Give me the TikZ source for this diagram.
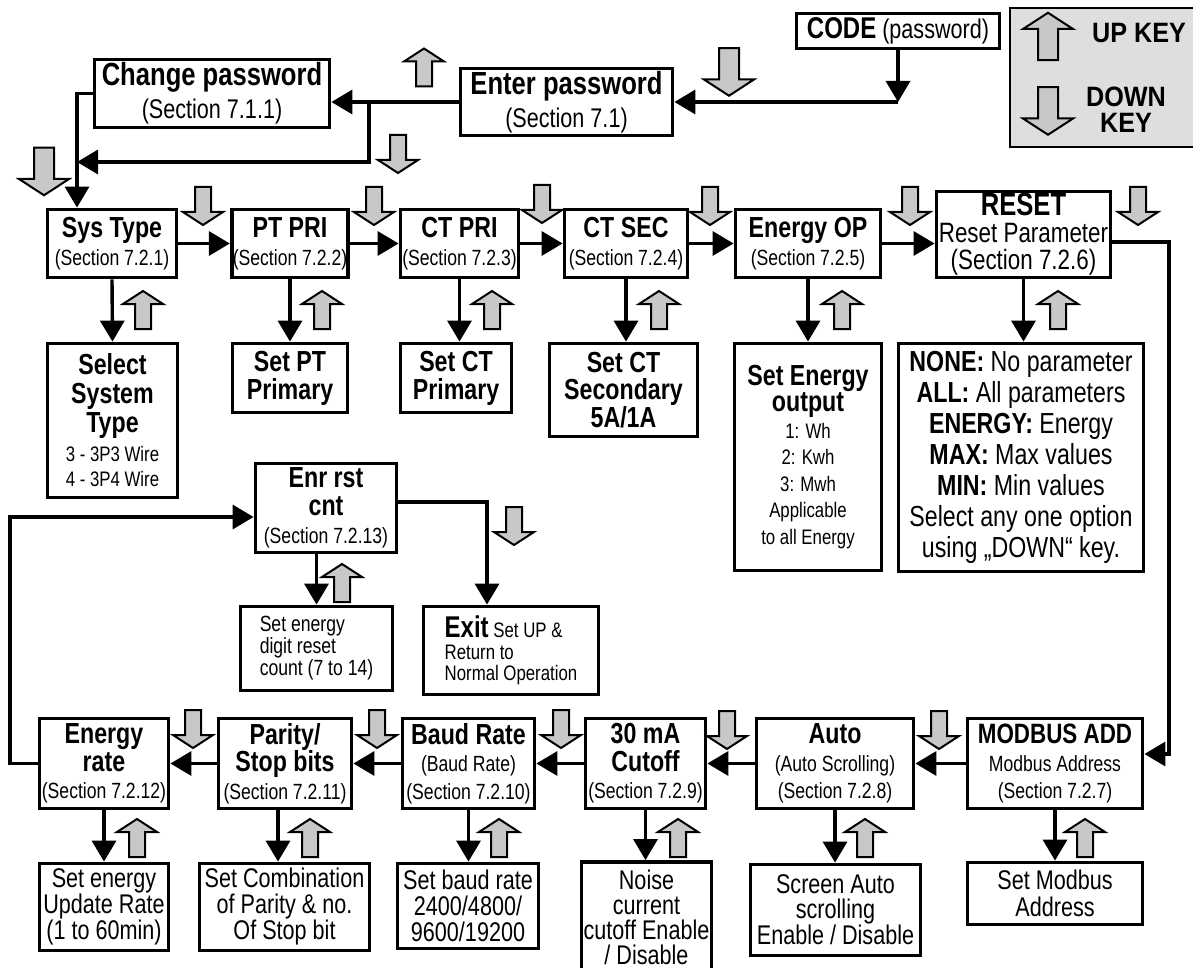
\documentclass[tikz,border=0pt]{standalone}
\usepackage{fontspec}
\setmainfont{Liberation Sans}[FakeStretch=0.8]
\newfontfamily\keyfont{Liberation Sans}[FakeStretch=0.9]
\usetikzlibrary{arrows.meta}
\definecolor{keygray}{RGB}{200,200,200}
\definecolor{legendgray}{RGB}{222,222,222}
\newcommand{\hd}[1]{{\fontsize{29}{28}\selectfont\bfseries #1}}
\newcommand{\bighd}[1]{{\fontsize{32}{32}\selectfont\bfseries #1}}

\begin{document}
\begin{tikzpicture}[x=1pt,y=-1pt,
    menubox/.style={draw, line width=3.8pt, align=center, inner sep=1pt, font=\fontsize{22}{28}\selectfont},
    wire/.style={line width=3.4pt},
    arr/.style={wire, -{Triangle[length=21pt,width=24pt]}},
    keyicon/.style={fill=keygray, draw=black, line width=2pt}]
    \useasboundingbox (0,0) rectangle (1193,968);
    \def\keydn{(-8,-19) -- (8,-19) -- (8,6) -- (20,6) -- (0,19) -- (-20,6) -- (-8,6) -- cycle}
    \def\keyup{(-8,19) -- (8,19) -- (8,-6) -- (20,-6) -- (0,-19) -- (-20,-6) -- (-8,-6) -- cycle}

    % --- PASSWORD (TOP) ---
    \node[menubox, minimum width=235pt, minimum height=68pt, font=\fontsize{27}{33}\selectfont] (chpw) at (212,93.5) {\bighd{Change password}\\(Section 7.1.1)};
    \node[menubox, minimum width=212pt, minimum height=67pt, font=\fontsize{27}{33}\selectfont] (enpw) at (566.5,102) {\bighd{Enter password}\\(Section 7.1)};
    \node[menubox, minimum width=203pt, minimum height=35pt, font=\fontsize{27}{30}\selectfont] (code) at (898,31) {{\fontsize{30}{30}\selectfont\bfseries CODE} (password)};
    \draw[fill=legendgray, line width=1.2pt] (1010,8) rectangle (1200,147);
    \filldraw[keyicon, shift={(1048,36.5)}, scale=1.25] \keyup;
    \filldraw[keyicon, shift={(1048,111)}, scale=1.25] \keydn;
    \node[font=\keyfont\fontsize{28}{26}\selectfont\bfseries] (upkey) at (1139,33) {UP KEY};
    \node[font=\keyfont\fontsize{28}{26}\selectfont\bfseries, align=center] (dnkey) at (1126,110) {DOWN\\KEY};
    \coordinate (cc) at (code.south |- enpw.east);
    \draw[arr] (code.south) -- (cc);
    \draw[arr] (cc) -- (enpw.east);
    \draw[arr] (enpw.west) -- (chpw.east |- enpw.west);
    \coordinate (jn) at (369,102);
    \coordinate (jnb) at (369,162);
    \coordinate (lp) at (77,162);
    \draw[arr] (jn) -- (jnb) -- (lp);
    \coordinate (lt) at (77,93.5);
    \filldraw[keyicon, shift={(424,67.5)}] \keyup;
    \filldraw[keyicon, shift={(729,72)}, scale=1.25] \keydn;
    \filldraw[keyicon, shift={(398,154)}] \keydn;
    \filldraw[keyicon, shift={(44,171.5)}, scale=1.25] \keydn;

    % --- SETUP ROW ---
    \node[menubox, minimum width=129pt, minimum height=68pt] (sys) at (112,243.5) {\hd{Sys Type}\\(Section 7.2.1)};
    \node[menubox, minimum width=115pt, minimum height=68pt] (ptpri) at (290,243.5) {\hd{PT PRI}\\(Section 7.2.2)};
    \node[menubox, minimum width=118pt, minimum height=68pt] (ctpri) at (459.5,243.5) {\hd{CT PRI}\\(Section 7.2.3)};
    \node[menubox, minimum width=123pt, minimum height=68pt] (ctsec) at (626,243.5) {\hd{CT SEC}\\(Section 7.2.4)};
    \node[menubox, minimum width=145pt, minimum height=68pt] (enop) at (808,243.5) {\hd{Energy OP}\\(Section 7.2.5)};
    \node[menubox, minimum width=174pt, minimum height=86pt, font=\fontsize{28}{27}\selectfont] (reset) at (1023.5,234.5) {\bighd{RESET}\\Reset Parameter\\(Section 7.2.6)};
    \draw[arr] (chpw.west) -- (lt) -- (lt |- sys.north);
    \draw[arr] (sys.east) -- (ptpri.west);
    \draw[arr] (ptpri.east) -- (ctpri.west);
    \draw[arr] (ctpri.east) -- (ctsec.west);
    \draw[arr] (ctsec.east) -- (enop.west);
    \draw[arr] (enop.east) -- (enop.east -| reset.west);
    \filldraw[keyicon, shift={(203,206)}] \keydn;
    \filldraw[keyicon, shift={(374,206)}] \keydn;
    \filldraw[keyicon, shift={(542,204)}] \keydn;
    \filldraw[keyicon, shift={(710,206)}] \keydn;
    \filldraw[keyicon, shift={(910,206)}] \keydn;
    \filldraw[keyicon, shift={(1138,206)}] \keydn;

    \node[menubox, minimum width=130pt, minimum height=154pt, font=\fontsize{21}{29}\selectfont] (selsys) at (112.5,420.5) {\hd{Select}\\\hd{System}\\\hd{Type}\\3 - 3P3 Wire\\[-4pt]4 - 3P4 Wire};
    \node[menubox, minimum width=115pt, minimum height=69pt] (setpt) at (290,378) {\hd{Set PT}\\\hd{Primary}};
    \node[menubox, minimum width=111pt, minimum height=69pt] (setct) at (456,378) {\hd{Set CT}\\\hd{Primary}};
    \node[menubox, minimum width=148pt, minimum height=93pt, font=\fontsize{21}{27}\selectfont] (setsec) at (623.5,390) {\hd{Set CT}\\\hd{Secondary}\\\hd{5A/1A}};
    \node[menubox, minimum width=147pt, minimum height=227pt, font=\fontsize{21}{26.5}\selectfont] (setenop) at (808,457) {\hd{Set Energy}\\\hd{output}\\1: Wh\\2: Kwh\\3: Mwh\\Applicable\\to all Energy};
    \node[menubox, minimum width=245pt, minimum height=228pt, font=\fontsize{29}{31}\selectfont] (none) at (1021,457.5) {{\bfseries NONE:} No parameter\\{\bfseries ALL:} All parameters\\{\bfseries ENERGY:} Energy\\{\bfseries MAX:} Max values\\{\bfseries MIN:} Min values\\Select any one option\\using „DOWN“ key.};
    \draw[arr] (sys.south) -- (selsys.north);
    \draw[arr] (ptpri.south) -- (setpt.north);
    \draw[arr] (ctpri.south) -- (ctpri.south |- setct.north);
    \draw[arr] (ctsec.south) -- (ctsec.south |- setsec.north);
    \draw[arr] (enop.south) -- (setenop.north);
    \draw[arr] (reset.south) -- (reset.south |- none.north);
    \filldraw[keyicon, shift={(143,310)}] \keyup;
    \filldraw[keyicon, shift={(322,310)}] \keyup;
    \filldraw[keyicon, shift={(492,310)}] \keyup;
    \filldraw[keyicon, shift={(659,310)}] \keyup;
    \filldraw[keyicon, shift={(842,310)}] \keyup;
    \filldraw[keyicon, shift={(1058,310)}] \keyup;

    % --- ENERGY RESET COUNT ---
    \node[menubox, minimum width=141pt, minimum height=89pt] (enrrst) at (326,508) {\hd{Enr rst}\\\hd{cnt}\\(Section 7.2.13)};
    \node[menubox, minimum width=152pt, minimum height=84pt, align=left, font=\fontsize{22}{22}\selectfont] (setdigit) at (316.5,648.5) {Set energy\\digit reset\\count (7 to 14)};
    \node[menubox, minimum width=175pt, minimum height=88pt, align=left, font=\fontsize{21}{21.5}\selectfont] (exit) at (511,650.5) {{\fontsize{30}{30}\selectfont\bfseries Exit} Set UP \&\\Return to\\Normal Operation};
    \coordinate (er) at (487,502);
    \draw[arr] (enrrst.east |- er) -- (er) -- (er |- exit.north);
    \draw[arr] (setdigit.north |- enrrst.south) -- (setdigit.north);
    \filldraw[keyicon, shift={(342,583)}] \keyup;
    \filldraw[keyicon, shift={(514,526)}] \keydn;

    % --- COMMUNICATION ROW (BOTTOM) ---
    \node[menubox, minimum width=129pt, minimum height=90pt, font=\fontsize{22}{27.5}\selectfont] (enrate) at (104,763.5) {\hd{Energy}\\\hd{rate}\\(Section 7.2.12)};
    \node[menubox, minimum width=133pt, minimum height=90pt, font=\fontsize{22}{27.5}\selectfont] (parity) at (285,763.5) {\hd{Parity/}\\\hd{Stop bits}\\(Section 7.2.11)};
    \node[menubox, minimum width=132pt, minimum height=90pt, font=\fontsize{22}{27.5}\selectfont] (baud) at (468.5,763.5) {\hd{Baud Rate}\\(Baud Rate)\\(Section 7.2.10)};
    \node[menubox, minimum width=120pt, minimum height=90pt, font=\fontsize{22}{27.5}\selectfont] (cutoff) at (645.5,763.5) {\hd{30 mA}\\\hd{Cutoff}\\(Section 7.2.9)};
    \node[menubox, minimum width=157pt, minimum height=90pt, font=\fontsize{22}{27.5}\selectfont] (auto) at (835,763.5) {\hd{Auto}\\(Auto Scrolling)\\(Section 7.2.8)};
    \node[menubox, minimum width=175pt, minimum height=90pt, font=\fontsize{22}{27.5}\selectfont] (modbus) at (1055,763.5) {{\fontsize{28}{28}\selectfont\bfseries MODBUS ADD}\\Modbus Address\\(Section 7.2.7)};
    \coordinate (rr) at (1169,242);
    \coordinate (rb) at (1169,754);
    \draw[arr] (reset.east |- rr) -- (rr) -- (rb) -- (rb -| modbus.east);
    \draw[arr] (modbus.west) -- (auto.east);
    \draw[arr] (auto.west) -- (cutoff.east);
    \draw[arr] (cutoff.west) -- (baud.east);
    \draw[arr] (baud.west) -- (parity.east);
    \draw[arr] (parity.west) -- (enrate.east);
    \coordinate (ll) at (10,763.5);
    \coordinate (lu) at (10,517);
    \draw[arr] (enrate.west) -- (ll) -- (lu) -- (lu -| enrrst.west);
    \filldraw[keyicon, shift={(193,729)}] \keydn;
    \filldraw[keyicon, shift={(377,729)}] \keydn;
    \filldraw[keyicon, shift={(561,729)}] \keydn;
    \filldraw[keyicon, shift={(727,730)}] \keydn;
    \filldraw[keyicon, shift={(939,730)}] \keydn;

    \node[menubox, minimum width=129pt, minimum height=87pt, font=\fontsize{27}{26}\selectfont] (upd) at (104,907) {Set energy\\Update Rate\\(1 to 60min)};
    \node[menubox, minimum width=170pt, minimum height=87pt, font=\fontsize{27}{26}\selectfont] (comb) at (284.5,907) {Set Combination\\of Parity \& no.\\Of Stop bit};
    \node[menubox, minimum width=141pt, minimum height=85pt, font=\fontsize{27}{26}\selectfont] (setbaud) at (468,906) {Set baud rate\\2400/4800/\\9600/19200};
    \node[menubox, minimum width=130pt, minimum height=136pt, font=\fontsize{27}{25}\selectfont] (noise) at (646.5,930) {Noise\\current\\cutoff Enable\\/ Disable\\~};
    \node[menubox, minimum width=170pt, minimum height=91pt, font=\fontsize{27}{25}\selectfont] (screen) at (835.5,910) {Screen Auto\\scrolling\\Enable / Disable};
    \node[menubox, minimum width=175pt, minimum height=62pt, font=\fontsize{27}{27}\selectfont] (setmb) at (1055,893.5) {Set Modbus\\Address};
    \draw[arr] (enrate.south) -- (upd.north);
    \draw[arr] (parity.south -| 278,0) -- (comb.north -| 278,0);
    \draw[arr] (baud.south) -- (baud.south |- setbaud.north);
    \draw[arr] (cutoff.south) -- (cutoff.south |- noise.north);
    \draw[arr] (auto.south) -- (auto.south |- screen.north);
    \draw[arr] (modbus.south) -- (setmb.north);
    \filldraw[keyicon, shift={(137,838)}] \keyup;
    \filldraw[keyicon, shift={(310,838)}] \keyup;
    \filldraw[keyicon, shift={(499,838)}] \keyup;
    \filldraw[keyicon, shift={(678,838)}] \keyup;
    \filldraw[keyicon, shift={(865,838)}] \keyup;
    \filldraw[keyicon, shift={(1085,838)}] \keyup;
\end{tikzpicture}
\end{document}
